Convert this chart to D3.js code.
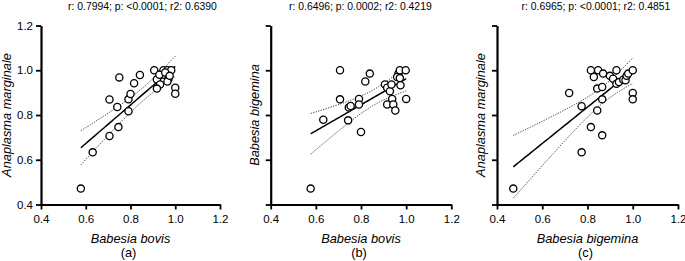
<!DOCTYPE html>
<html>
<head>
<meta charset="utf-8">
<script src="https://cdn.jsdelivr.net/npm/d3@7"></script>
<style>
  body { margin: 0; background: #fff; }
  text { font-family: "Liberation Sans", Arial, sans-serif; fill: #000; }
</style>
</head>
<body>
<script>
// --- data ---
// (a) Babesia bovis vs Anaplasma marginale
const bovisA = [0.578, 0.631, 0.706, 0.746, 0.706, 0.741, 0.750, 0.791, 0.791, 0.800, 0.816, 0.842, 0.906,
  0.918, 0.932, 0.918, 0.947, 0.965, 0.982, 0.950, 0.970, 0.965, 1.000, 1.000, 0.929, 0.955, 0.975];
const marginaleA = [0.471, 0.633, 0.706, 0.746, 0.869, 0.836, 0.968, 0.817, 0.870, 0.894, 0.942, 0.979, 1.000,
  0.959, 0.936, 0.918, 1.000, 1.000, 1.000, 0.980, 0.962, 0.950, 0.922, 0.895, 0.980, 0.990, 0.975];

// (b) Babesia bovis vs Babesia bigemina
const bovisB = [0.577, 0.633, 0.707, 0.707, 0.743, 0.746, 0.754, 0.791, 0.791, 0.800, 0.819, 0.839, 0.906,
  0.916, 0.928, 0.935, 0.938, 0.916, 0.943, 0.952, 0.966, 0.972, 0.998, 0.960, 0.972, 0.975, 1.000];
const bigeminaB = [0.471, 0.779, 1.000, 0.870, 0.776, 0.833, 0.840, 0.872, 0.847, 0.724, 0.950, 0.985, 0.936,
  0.922, 0.906, 0.936, 0.872, 0.847, 0.847, 0.820, 0.985, 1.000, 1.000, 0.970, 0.965, 0.933, 0.872];

// (c) Babesia bigemina vs Anaplasma marginale
const bigeminaC = [0.472, 0.719, 0.774, 0.774, 0.815, 0.815, 0.828, 0.843, 0.843, 0.847, 0.865, 0.865, 0.865,
  0.869, 0.899, 0.913, 0.928, 0.928, 0.939, 0.958, 0.968, 0.973, 0.980, 1.000, 1.000, 1.000];
const marginaleC = [0.471, 0.898, 0.633, 0.839, 0.746, 1.000, 0.970, 0.820, 0.918, 1.000, 0.709, 0.870, 0.925,
  0.985, 0.975, 0.962, 1.000, 0.940, 0.947, 0.958, 0.955, 0.975, 0.985, 1.000, 0.898, 0.870];

const xTicks = [0.4, 0.6, 0.8, 1.0, 1.2];
const yTicks = [0.4, 0.6, 0.8, 1.0, 1.2];
const statTitles = [
  "r: 0.7994; p: <0.0001; r2: 0.6390",
  "r: 0.6496; p: 0.0002; r2: 0.4219",
  "r: 0.6965; p: <0.0001; r2: 0.4851"
];
const xTitles = ["Babesia bovis", "Babesia bovis", "Babesia bigemina"];
const yTitles = ["Anaplasma marginale", "Babesia bigemina", "Anaplasma marginale"];
const panelTags = ["(a)", "(b)", "(c)"];

// --- layout ---
const width = 685, height = 261;
const plotTop = 25.5, plotBottom = 204.5;
const panels = [
  { xs: bovisA, ys: marginaleA, left: 41, right: 220, titleX: 68, yLabels: true, yTitleX: 11 },
  { xs: bovisB, ys: bigeminaB, left: 270.7, right: 451.3, titleX: 289, yLabels: false, yTitleX: 258.5 },
  { xs: bigeminaC, ys: marginaleC, left: 497, right: 678, titleX: 521.5, yLabels: false, yTitleX: 485 }
];

// least squares fit with 95% confidence band of the line
function fitLine(xs, ys) {
  const n = xs.length;
  const mx = d3.mean(xs), my = d3.mean(ys);
  let sxx = 0, sxy = 0;
  xs.forEach((x, i) => { sxx += (x - mx) ** 2; sxy += (x - mx) * (ys[i] - my); });
  const b = sxy / sxx, a = my - b * mx;
  let sse = 0;
  xs.forEach((x, i) => { sse += (ys[i] - (a + b * x)) ** 2; });
  const s = Math.sqrt(sse / (n - 2));
  const t = 2.056; // ~ t(0.975, df≈26)
  const [x0, x1] = d3.extent(xs);
  return d3.range(0, 41).map(k => {
    const x = x0 + (x1 - x0) * k / 40;
    const yh = a + b * x;
    const se = s * Math.sqrt(1 / n + (x - mx) ** 2 / sxx);
    return { x, y: yh, lo: yh - t * se, hi: yh + t * se };
  });
}

const svg = d3.select("body").append("svg")
  .attr("width", width)
  .attr("height", height);

panels.forEach((p, i) => {
  const x = d3.scaleLinear().domain([0.4, 1.2]).range([p.left, p.right]);
  const y = d3.scaleLinear().domain([0.4, 1.2]).range([plotBottom, plotTop]);
  const g = svg.append("g");

  // axes
  const xAxis = g.append("g")
    .attr("transform", `translate(0,${plotBottom})`)
    .call(d3.axisBottom(x).tickValues(xTicks).tickSize(5).tickSizeOuter(0)
      .tickPadding(5).tickFormat(d3.format(".1f")));
  const yAxis = g.append("g")
    .attr("transform", `translate(${p.left},0)`)
    .call(d3.axisLeft(y).tickValues(yTicks).tickSize(5).tickSizeOuter(0)
      .tickPadding(3).tickFormat(p.yLabels ? d3.format(".1f") : () => ""));
  [xAxis, yAxis].forEach(ax => {
    ax.select(".domain").attr("stroke", "#000").attr("stroke-width", 2.2);
    ax.selectAll(".tick line").attr("stroke", "#000").attr("stroke-width", 1.8);
    ax.selectAll(".tick text").attr("font-size", 11.5).attr("font-family", "Liberation Sans, Arial, sans-serif");
  });

  // regression line and confidence band
  const fit = fitLine(p.xs, p.ys);
  const line = key => d3.line().x(d => x(d.x)).y(d => y(d[key]));
  ["lo", "hi"].forEach(k => {
    g.append("path").datum(fit)
      .attr("d", line(k))
      .attr("fill", "none")
      .attr("stroke", "#333")
      .attr("stroke-width", 0.9)
      .attr("stroke-dasharray", "1.3,1.3");
  });
  g.append("path").datum(fit)
    .attr("d", line("y"))
    .attr("fill", "none")
    .attr("stroke", "#000")
    .attr("stroke-width", 1.5);

  // points
  g.selectAll("circle.pt")
    .data(p.xs.map((v, j) => ({ x: v, y: p.ys[j] })))
    .join("circle")
    .attr("class", "pt")
    .attr("cx", d => x(d.x))
    .attr("cy", d => y(d.y))
    .attr("r", 3.6)
    .attr("fill", "#fff")
    .attr("stroke", "#000")
    .attr("stroke-width", 1.3);

  // texts
  g.append("text")
    .attr("x", p.titleX)
    .attr("y", 10)
    .attr("font-size", 10.4)
    .text(statTitles[i]);

  const cx = (p.left + p.right) / 2;
  g.append("text")
    .attr("x", cx)
    .attr("y", 242.5)
    .attr("text-anchor", "middle")
    .attr("font-size", 12.8)
    .attr("font-style", "italic")
    .text(xTitles[i]);

  g.append("text")
    .attr("x", cx - 2)
    .attr("y", 257)
    .attr("text-anchor", "middle")
    .attr("font-size", 12.8)
    .text(panelTags[i]);

  g.append("text")
    .attr("transform", `translate(${p.yTitleX},${(plotTop + plotBottom) / 2}) rotate(-90)`)
    .attr("text-anchor", "middle")
    .attr("font-size", 12.8)
    .attr("font-style", "italic")
    .text(yTitles[i]);
});
</script>
</body>
</html>
